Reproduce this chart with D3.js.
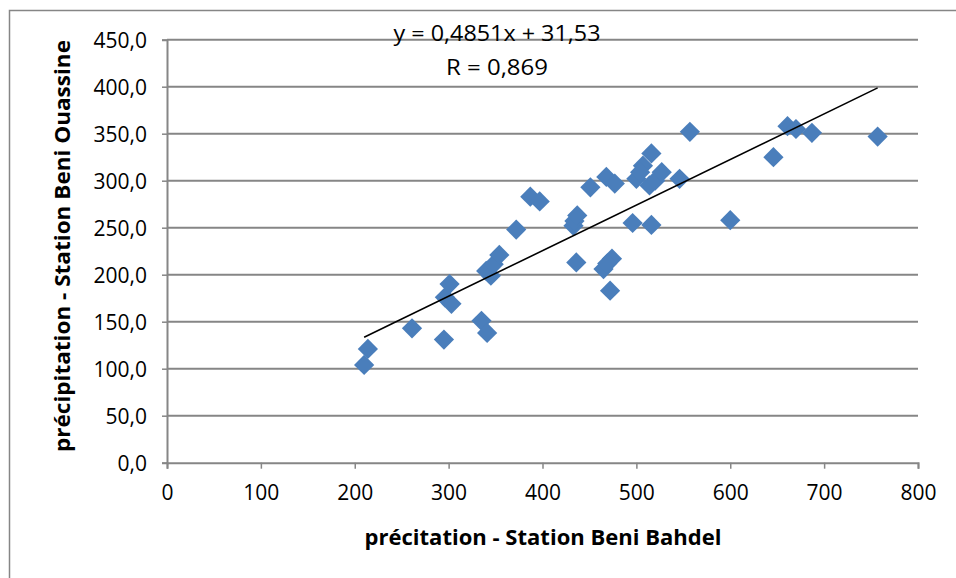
<!DOCTYPE html>
<html><head><meta charset="utf-8">
<script src="https://cdn.jsdelivr.net/npm/d3@7"></script>
<style>body{margin:0;background:#fff}svg{display:block}</style>
</head><body>
<svg id="c" width="956" height="578"></svg>
<script>
const xValues = [210,214,261,295,296,301,303,335,341,340,345,348,354,372,387,397,433,434,437,436,451,468,477,474,465,469,472,496,516,500,507,504,516,514,520,527,546,557,600,646,661,670,687,757];
const yValues = [104,121,143,131,176,190,169,151,138,204,199,211,221,248,283,278,252,257,263,213,293,304,297,217,206,212,183,255,253,302,316,309,329,295,300,309,302,352,258,325,358,355,351,347];
const xTicks = [0,100,200,300,400,500,600,700,800];
const yTicks = [0,50,100,150,200,250,300,350,400,450];
const slope = 0.4851, intercept = 31.53;
const eqText = "y = 0,4851x + 31,53";
const rText = "R = 0,869";
const xTitle = "précitation - Station Beni Bahdel";
const yTitle = "précipitation - Station Beni Ouassine";

const svg = d3.select("#c");
const font = "'Open Sans', sans-serif";
const grey = "#868686";
const x = d3.scaleLinear().domain([0,800]).range([167,918]);
const y = d3.scaleLinear().domain([0,450]).range([462.7,39.7]);

// chart border
svg.append("path").attr("d","M9.5,578 V10.5 H956").attr("fill","none").attr("stroke",grey).attr("stroke-width",1.5);

// gridlines
svg.append("g").selectAll("line").data(yTicks.filter(d=>d>0)).join("line")
  .attr("x1",x(0)).attr("x2",x(800)).attr("y1",d=>y(d)).attr("y2",d=>y(d))
  .attr("stroke",grey).attr("stroke-width",2);

const fmt = d => d3.format(".1f")(d).replace(".",",");
const yAxis = svg.append("g").attr("transform",`translate(${x(0)},0)`)
  .call(d3.axisLeft(y).tickValues(yTicks).tickFormat(fmt).tickSize(5).tickPadding(15));
const xAxis = svg.append("g").attr("transform",`translate(0,${y(0)})`)
  .call(d3.axisBottom(x).tickValues(xTicks).tickFormat(d3.format("d")).tickSize(6).tickPadding(16));
[xAxis,yAxis].forEach(g=>{
  g.select(".domain").attr("stroke",grey).attr("stroke-width",2);
  g.selectAll(".tick line").attr("stroke",grey).attr("stroke-width",1.5);
  g.selectAll("text").attr("fill","#000").style("font-family",font).style("font-size","21px");
});
yAxis.selectAll(".tick text").attr("dy","0.36em");

// points
const pts = xValues.map((v,i)=>[v,yValues[i]]);
const sym = d3.symbol().type(d3.symbolSquare).size(205);
svg.append("g").selectAll("path").data(pts).join("path")
  .attr("d",sym)
  .attr("transform",d=>`translate(${x(d[0])},${y(d[1])}) rotate(45)`)
  .attr("fill","#4A7EBB");

// trendline
const x0 = d3.min(xValues), x1 = d3.max(xValues);
svg.append("line").attr("x1",x(x0)).attr("y1",y(slope*x0+intercept))
  .attr("x2",x(x1)).attr("y2",y(slope*x1+intercept))
  .attr("stroke","#000").attr("stroke-width",1.6);

// equation
svg.append("text").attr("x",497).attr("y",41).attr("text-anchor","middle")
  .style("font-family",font).style("font-size","21px")
  .attr("textLength",207).attr("lengthAdjust","spacingAndGlyphs").text(eqText);
svg.append("text").attr("x",497).attr("y",75).attr("text-anchor","middle")
  .style("font-family",font).style("font-size","21px")
  .attr("textLength",102).attr("lengthAdjust","spacingAndGlyphs").text(rText);

// titles
svg.append("text").attr("x",543).attr("y",545).attr("text-anchor","middle")
  .style("font-family",font).style("font-size","21px").style("font-weight","bold")
  .attr("textLength",357).attr("lengthAdjust","spacingAndGlyphs").text(xTitle);
svg.append("text").attr("transform","translate(70,246) rotate(-90)").attr("text-anchor","middle")
  .style("font-family",font).style("font-size","21px").style("font-weight","bold")
  .attr("textLength",412).attr("lengthAdjust","spacingAndGlyphs").text(yTitle);
</script>
</body></html>
